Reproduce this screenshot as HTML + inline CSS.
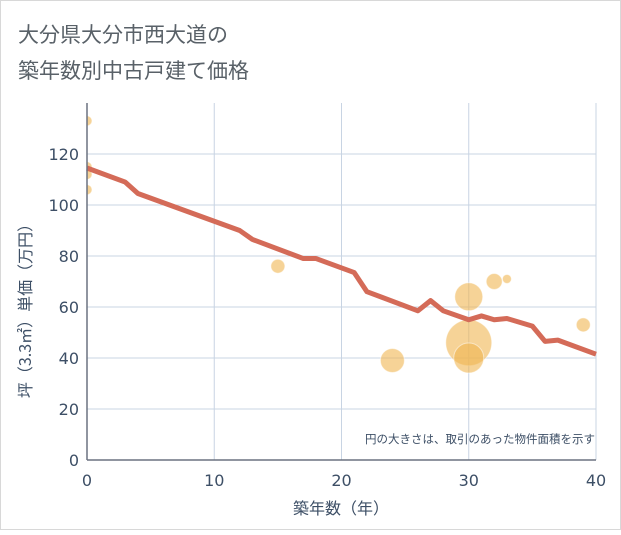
<!DOCTYPE html>
<html><head><meta charset="utf-8"><style>
body{margin:0;background:#fff;}
svg text{font-family:"DejaVu Sans","Noto Sans CJK JP",sans-serif;}
</style></head><body>
<svg width="621" height="530" xmlns="http://www.w3.org/2000/svg">
<defs><clipPath id="plotclip"><rect x="87" y="103" width="509" height="357"/></clipPath></defs>
<rect x="0.5" y="0.5" width="620" height="529" fill="#fff" stroke="#d8d8d8"/>
<text x="18" y="42" font-size="21" fill="#596168" style="font-family:'Noto Sans CJK JP',sans-serif">大分県大分市西大道の</text>
<text x="18" y="78" font-size="21" fill="#596168" style="font-family:'Noto Sans CJK JP',sans-serif">築年数別中古戸建て価格</text>
<g id="grid"></g>
<g id="bubbles" clip-path="url(#plotclip)"></g>
<g id="line"></g>
<g id="axes"></g>
<text x="595" y="443" font-size="11.5" fill="#3d4f66" text-anchor="end" style="font-family:'Noto Sans CJK JP',sans-serif">円の大きさは、取引のあった物件面積を示す</text>
<text x="341" y="514" font-size="16" fill="#3d4f66" text-anchor="middle" style="font-family:'Noto Sans CJK JP',sans-serif">築年数（年）</text>
<text transform="translate(31,307) rotate(-90)" font-size="16" fill="#3d4f66" text-anchor="middle" style="font-family:'Noto Sans CJK JP',sans-serif">坪（3.3㎡）単価（万円）</text>
</svg>
<script>
const xTicks=[0,10,20,30,40];
const yTicks=[0,20,40,60,80,100,120];
const lineYears=[0,3,4,12,13,17,18,21,22,26,27,28,30,31,32,33,35,36,37,40];
const lineValues=[114.5,109,104.5,90,86.5,79,79,73.5,66,58.5,62.5,58.5,55,56.5,55,55.5,52.5,46.5,47,41.5];
const bubbleYears=[0,0,0,0,15,24,30,30,30,32,33,39];
const bubbleValues=[133,115,112,106,76,39,64,46,40,70,71,53];
const bubbleSizes=[5,5,5,5,7,12,14,23,15,8,4.5,7];
const NS='http://www.w3.org/2000/svg';
const X0=87,X1=596,Y0=460,Y1=103;
const xs=v=>X0+(v-0)/40*(X1-X0);
const ys=v=>Y0-v*2.55;
function mk(tag,attrs,parent){const e=document.createElementNS(NS,tag);for(const k in attrs)e.setAttribute(k,attrs[k]);parent.appendChild(e);return e;}
const grid=document.getElementById('grid'),axes=document.getElementById('axes');
xTicks.forEach(t=>{
 const l=mk('line',{x1:xs(t),x2:xs(t),y1:Y1,y2:Y0,stroke:'#c8d4e3','stroke-width':1},grid);
 
 
 const tx=mk('text',{x:xs(t),y:486,'font-size':16,fill:'#3d4f66','text-anchor':'middle'},axes);
 tx.textContent=t;
 
 
});
yTicks.forEach(t=>{
 const l=mk('line',{x1:X0,x2:X1,y1:ys(t),y2:ys(t),stroke:'#c8d4e3','stroke-width':1},grid);
 
 
 const tx=mk('text',{x:79,y:ys(t)+6,'font-size':16,fill:'#3d4f66','text-anchor':'end'},axes);
 tx.textContent=t;
 
 
});
const xa=mk('line',{x1:X0,x2:X1,y1:Y0,y2:Y0,stroke:'#6b7280','stroke-width':1.5},axes);


const ya=mk('line',{x1:X0,x2:X0,y1:Y1,y2:Y0,stroke:'#6b7280','stroke-width':1.5},axes);


const bg=document.getElementById('bubbles');
bubbleYears.forEach((yr,i)=>{
 const c=mk('circle',{cx:xs(yr),cy:ys(bubbleValues[i]),r:bubbleSizes[i],fill:'#f0b552','fill-opacity':0.6,stroke:'#fff','stroke-opacity':0.5},bg);
 
 
});
const pts=lineYears.map((y,i)=>xs(y)+','+ys(lineValues[i])).join(' ');
const pl=mk('polyline',{points:pts,fill:'none',stroke:'#d46b58','stroke-width':5,'stroke-linejoin':'round'},document.getElementById('line'));


</script>
</body></html>
